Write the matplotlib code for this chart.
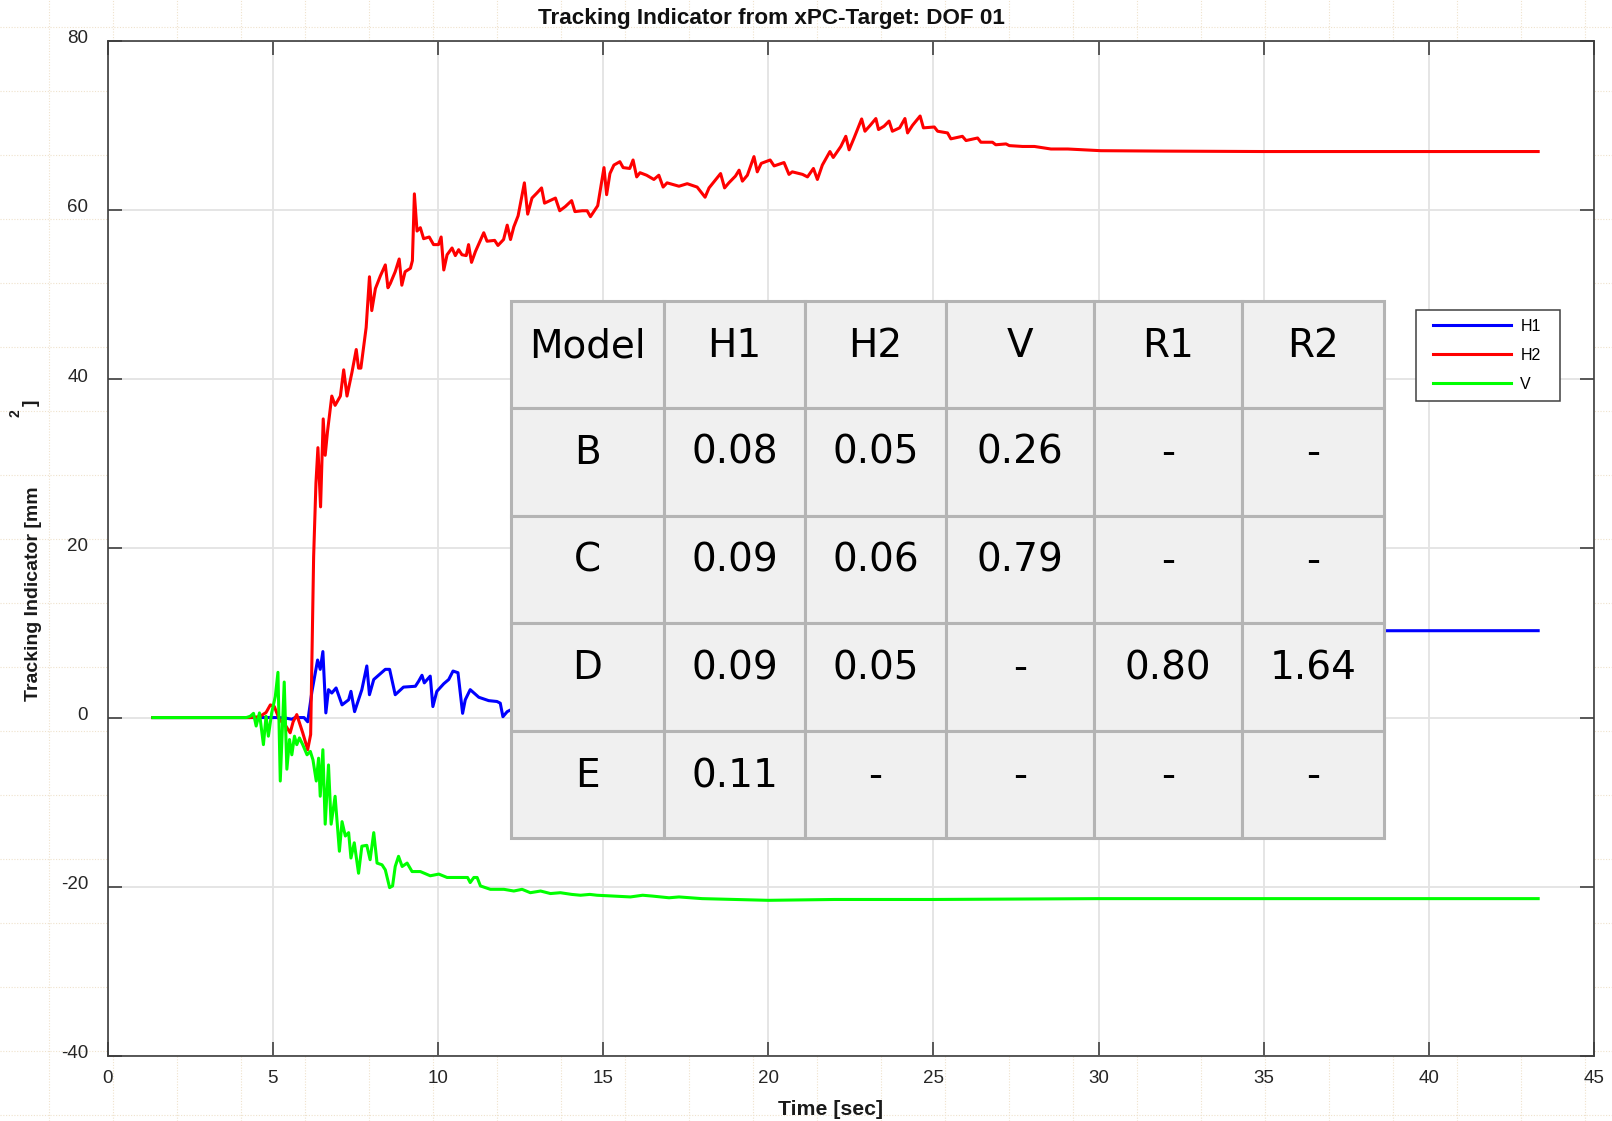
import matplotlib
matplotlib.use("Agg")
import matplotlib.pyplot as plt
from matplotlib.lines import Line2D
from matplotlib.legend_handler import HandlerLine2D
from matplotlib.patches import Rectangle
from matplotlib.transforms import ScaledTranslation

plt.rcParams['font.family'] = ['Liberation Sans', 'DejaVu Sans']
plt.rcParams['axes.unicode_minus'] = False

# ---- tracking indicator traces (time [sec], value [mm^2]) ----
t_h1 = [1.37, 4.50, 5.13, 5.38, 5.58, 5.68, 5.95, 6.06, 6.19, 6.36,
        6.44, 6.52, 6.61, 6.69, 6.79, 6.92, 7.10, 7.30, 7.37, 7.48,
        7.70, 7.85, 7.93, 8.06, 8.41, 8.54, 8.71, 8.96, 9.32, 9.42,
        9.52, 9.59, 9.77, 9.85, 9.97, 10.18, 10.33, 10.46, 10.61, 10.75,
        10.83, 10.98, 11.24, 11.54, 11.79, 11.89, 11.97, 12.10, 12.50, 13.50,
        14.50, 15.50, 17.00, 19.00, 21.00, 23.00, 25.00, 27.00, 30.00, 43.31]
h1 = [0.0, 0.0, 0.0, -0.05, -0.2, 0.0, 0.0, -0.5, 3.1, 6.8,
      5.7, 7.8, 0.55, 3.3, 2.9, 3.5, 1.5, 2.1, 3.1, 0.7,
      3.3, 6.1, 2.7, 4.5, 5.7, 5.7, 2.7, 3.6, 3.7, 4.3,
      5.0, 4.1, 4.9, 1.3, 3.1, 4.0, 4.5, 5.5, 5.3, 0.5,
      2.1, 3.3, 2.4, 2.0, 1.9, 1.7, 0.1, 0.7, 1.5, 3.0,
      4.5, 5.5, 6.5, 7.5, 8.5, 9.5, 10.0, 10.2, 10.25, 10.27]

t_h2 = [1.37, 4.30, 4.60, 4.80, 4.93, 5.05, 5.20, 5.40, 5.53, 5.62,
        5.73, 5.91, 6.06, 6.15, 6.24, 6.31, 6.37, 6.45, 6.53, 6.59,
        6.66, 6.79, 6.89, 7.05, 7.15, 7.25, 7.40, 7.53, 7.60, 7.67,
        7.83, 7.93, 8.00, 8.11, 8.26, 8.41, 8.49, 8.56, 8.71, 8.83,
        8.91, 9.01, 9.17, 9.23, 9.29, 9.37, 9.47, 9.57, 9.74, 9.87,
        10.02, 10.10, 10.18, 10.28, 10.43, 10.53, 10.63, 10.73, 10.86, 10.93,
        11.02, 11.14, 11.39, 11.49, 11.72, 11.82, 11.99, 12.10, 12.20, 12.30,
        12.43, 12.62, 12.72, 12.85, 13.00, 13.14, 13.23, 13.56, 13.69, 13.86,
        14.05, 14.15, 14.37, 14.52, 14.62, 14.84, 15.03, 15.11, 15.21, 15.33,
        15.51, 15.61, 15.81, 15.91, 16.02, 16.12, 16.32, 16.54, 16.69, 16.82,
        16.94, 17.30, 17.55, 17.85, 18.09, 18.21, 18.56, 18.68, 18.81, 19.01,
        19.12, 19.22, 19.37, 19.57, 19.67, 19.79, 20.06, 20.18, 20.48, 20.63,
        20.73, 21.04, 21.19, 21.37, 21.49, 21.64, 21.87, 21.97, 22.20, 22.35,
        22.45, 22.60, 22.83, 22.93, 23.09, 23.26, 23.34, 23.51, 23.66, 23.76,
        23.98, 24.14, 24.22, 24.37, 24.60, 24.70, 25.03, 25.13, 25.43, 25.53,
        25.88, 25.99, 26.34, 26.44, 26.79, 26.89, 27.20, 27.30, 27.70, 28.06,
        28.56, 29.07, 30.07, 32.00, 35.00, 43.31]
h2 = [0.0, 0.0, 0.1, 0.6, 1.5, 1.3, -0.2, -1.0, -1.8, -0.5,
      0.35, -1.8, -3.8, -2.0, 19.0, 27.7, 31.9, 24.9, 35.3, 31.0,
      33.8, 38.0, 36.9, 38.0, 41.1, 38.0, 40.8, 43.5, 41.3, 41.3,
      46.1, 52.1, 48.1, 50.7, 52.2, 53.5, 50.8, 51.3, 52.7, 54.2,
      51.1, 52.7, 53.1, 54.0, 61.9, 57.5, 57.9, 56.6, 56.8, 55.9,
      55.9, 56.8, 52.9, 54.7, 55.5, 54.6, 55.3, 54.7, 54.6, 55.9,
      53.8, 55.1, 57.3, 56.3, 56.4, 55.8, 56.5, 58.2, 56.5, 58.0,
      59.3, 63.2, 59.5, 61.4, 62.0, 62.6, 60.8, 61.4, 59.9, 60.4,
      61.1, 59.8, 59.9, 59.9, 59.2, 60.5, 65.0, 61.8, 64.3, 65.3,
      65.7, 65.0, 64.9, 65.9, 63.9, 64.4, 64.1, 63.6, 64.1, 62.7,
      63.2, 62.8, 63.1, 62.7, 61.5, 62.6, 64.3, 62.6, 63.2, 64.0,
      64.7, 63.4, 64.1, 66.3, 64.5, 65.5, 65.9, 65.2, 65.6, 64.2,
      64.5, 64.2, 63.9, 64.9, 63.6, 65.3, 66.9, 66.2, 67.5, 68.7,
      67.1, 68.5, 70.75, 69.3, 70.0, 70.8, 69.5, 69.9, 70.5, 69.3,
      69.7, 70.8, 69.1, 70.0, 71.1, 69.7, 69.8, 69.3, 69.1, 68.4,
      68.7, 68.2, 68.5, 68.0, 68.0, 67.7, 67.8, 67.6, 67.5, 67.5,
      67.2, 67.2, 67.0, 66.95, 66.9, 66.9]

t_v = [1.37, 4.20, 4.32, 4.42, 4.50, 4.60, 4.72, 4.80, 4.87, 4.97,
       5.08, 5.16, 5.23, 5.35, 5.43, 5.51, 5.58, 5.66, 5.73, 5.81,
       5.91, 6.04, 6.14, 6.22, 6.32, 6.39, 6.44, 6.52, 6.59, 6.69,
       6.77, 6.89, 7.02, 7.10, 7.20, 7.30, 7.37, 7.47, 7.60, 7.70,
       7.85, 7.95, 8.06, 8.16, 8.31, 8.41, 8.54, 8.63, 8.71, 8.81,
       8.92, 9.07, 9.22, 9.47, 9.77, 10.03, 10.28, 10.58, 10.90, 10.98,
       11.09, 11.19, 11.29, 11.59, 12.00, 12.30, 12.55, 12.80, 13.11, 13.41,
       13.71, 14.05, 14.32, 14.60, 14.82, 15.33, 15.83, 16.20, 16.50, 17.00,
       17.30, 18.00, 19.00, 20.00, 22.00, 25.00, 30.00, 43.31]
v = [0.0, 0.0, 0.15, 0.5, -1.0, 0.55, -3.2, 0.15, -2.2, 0.55,
     2.5, 5.35, -7.5, 4.2, -6.1, -2.6, -4.4, -2.2, -3.2, -2.4,
     -3.2, -4.4, -4.0, -5.0, -7.5, -4.8, -9.3, -3.8, -12.6, -5.6,
     -12.6, -9.3, -15.8, -12.3, -14.0, -13.6, -16.6, -14.8, -18.4, -15.2,
     -15.1, -16.8, -13.6, -17.2, -17.4, -18.0, -20.1, -19.9, -17.6, -16.4,
     -17.6, -17.2, -18.2, -18.2, -18.7, -18.5, -18.9, -18.9, -18.9, -19.5,
     -18.9, -18.9, -19.9, -20.3, -20.3, -20.5, -20.3, -20.7, -20.5, -20.8,
     -20.7, -20.9, -21.0, -20.9, -21.0, -21.1, -21.2, -21.0, -21.1, -21.3,
     -21.2, -21.4, -21.5, -21.6, -21.5, -21.5, -21.4, -21.4]

# ---- summary table ----
table_header = ['Model', 'H1', 'H2', 'V', 'R1', 'R2']
table_rows = [['B', '0.08', '0.05', '0.26', '-', '-'],
              ['C', '0.09', '0.06', '0.79', '-', '-'],
              ['D', '0.09', '0.05', '-', '0.80', '1.64'],
              ['E', '0.11', '-', '-', '-', '-']]

x_ticks = list(range(0, 50, 5))
y_ticks = list(range(-40, 100, 20))

W, H = 1612, 1121
fig = plt.figure(figsize=(W / 100, H / 100), dpi=100, facecolor='white')

# faint dotted raster behind the axes
for yy in range(27, H, 64):
    fig.add_artist(Line2D([0, 1], [1 - yy / H] * 2, transform=fig.transFigure,
                          color='#efe2cc', lw=0.8, ls=(0, (1, 1.5)), zorder=-5))
for xx in range(49, W, 64):
    fig.add_artist(Line2D([xx / W] * 2, [0, 1], transform=fig.transFigure,
                          color='#efe2cc', lw=0.8, ls=(0, (1, 1.5)), zorder=-5))

ax_l, ax_r, ax_t, ax_b = 107.5, 1594.0, 40.7, 1056.0
ax = fig.add_axes([ax_l / W, 1 - ax_b / H, (ax_r - ax_l) / W, (ax_b - ax_t) / H])
ax.set_facecolor('white')

ax.plot(t_h1, h1, color='#0000ff', lw=2.2, label='H1')
ax.plot(t_h2, h2, color='#ff0000', lw=2.2, label='H2')
ax.plot(t_v, v, color='#00ff00', lw=2.2, label='V')

ax.set_xlim(0, 45)
ax.set_ylim(-40, 80)
ax.set_xticks(x_ticks)
ax.set_yticks(y_ticks)
ax.grid(True, color='#e3e3e3', lw=1.3)
for s in ax.spines.values():
    s.set_color('#3c3c3c')
    s.set_linewidth(1.2)
ax.tick_params(direction='in', length=10, width=1.2, color='#404040',
               top=True, right=True, labelsize=13.5, labelcolor='#262626')
ax.tick_params(axis='y', pad=14)
ax.tick_params(axis='x', pad=10)
for tk in ax.yaxis.get_major_ticks():
    tk.label1.set_transform(tk.label1.get_transform() +
                            ScaledTranslation(0, 0.04, fig.dpi_scale_trans))

ax.set_xlabel('Time [sec]', fontsize=15.3, fontweight='bold', color='#1a1a1a')
ax.xaxis.set_label_coords((831 - ax_l) / (ax_r - ax_l), (ax_b - 1100) / (ax_b - ax_t))
ax.set_ylabel('Tracking Indicator [mm', fontsize=14.0, fontweight='bold', color='#1a1a1a')
ax.yaxis.set_label_coords((42 - ax_l) / (ax_r - ax_l), (ax_b - 594) / (ax_b - ax_t))
fig.text(16 / W, 1 - 413 / H, '2', rotation=90, ha='center', va='center',
         fontsize=10, fontweight='bold', color='#1a1a1a')
fig.text(31 / W, 1 - 403 / H, ']', rotation=90, ha='center', va='center',
         fontsize=14.0, fontweight='bold', color='#1a1a1a')

fig.text(771 / W, 1 - 24 / H, 'Tracking Indicator from xPC-Target: DOF 01',
         ha='center', va='baseline', fontsize=16.2, fontweight='bold', color='#111111')

# legend box stretched to a fixed width, handles inset from the left edge
lx0, lx1, ly0, ly1 = 1416, 1560, 310, 406
leg = ax.legend(loc='upper left', mode='expand',
                bbox_to_anchor=((lx0 - ax_l) / (ax_r - ax_l), (ax_b - ly1) / (ax_b - ax_t),
                                (lx1 - lx0) / (ax_r - ax_l), (ly1 - ly0) / (ax_b - ax_t)),
                borderaxespad=0, fontsize=11.5, fancybox=False, framealpha=1,
                edgecolor='#404040', borderpad=0.55, handlelength=5.42,
                handletextpad=0.56, labelspacing=0.88,
                handler_map={Line2D: HandlerLine2D(xpad=0.54)})
leg.get_frame().set_linewidth(1.1)


# summary table drawn as cells over the axes
def to_ax(px, py):
    return (px - ax_l) / (ax_r - ax_l), (ax_b - py) / (ax_b - ax_t)


col_edges = [511, 664, 805, 946, 1094, 1242, 1384]
row_edges = [301, 408, 516, 623, 731, 838]
cells = [table_header] + table_rows
for i, row in enumerate(cells):
    for j, txt in enumerate(row):
        x0, y1 = to_ax(col_edges[j], row_edges[i])
        x1, y0 = to_ax(col_edges[j + 1], row_edges[i + 1])
        ax.add_patch(Rectangle((x0, y0), x1 - x0, y1 - y0, transform=ax.transAxes,
                               facecolor='#f0f0f0', edgecolor='#b4b4b4', lw=2.2,
                               zorder=5, clip_on=False))
        bx, by = to_ax((col_edges[j] + col_edges[j + 1]) / 2, row_edges[i] + 56)
        ax.text(bx, by, txt, transform=ax.transAxes, ha='center', va='baseline',
                fontsize=28, family='DejaVu Sans', color='black', zorder=6)

fig.savefig('out.png', dpi=100)
